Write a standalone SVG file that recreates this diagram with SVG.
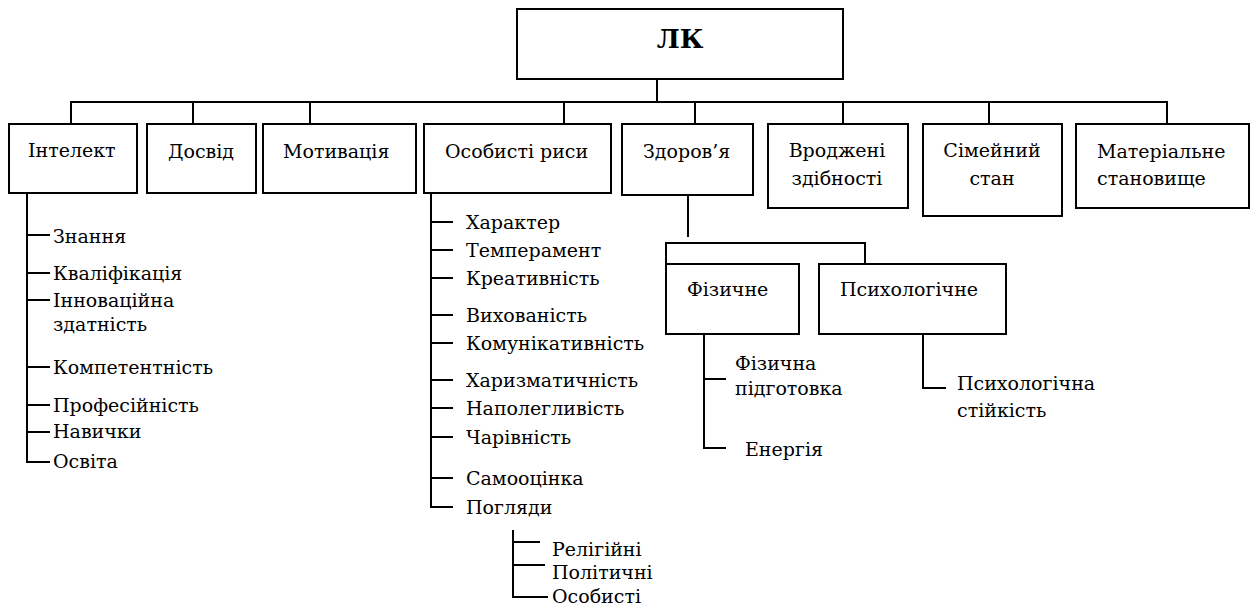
<svg xmlns="http://www.w3.org/2000/svg" width="1251" height="608" viewBox="0 0 1251 608">
<style>
.box{fill:#fff;stroke:#000;stroke-width:2}
.ln{fill:none;stroke:#000;stroke-width:2}
.c{text-anchor:middle}
.b{font-weight:bold;font-size:26px}
</style>
<rect width="1251" height="608" fill="#fff"/>
<g id="connectors">
<path class="ln" d="M657,79V102M71,124V102H1167V124M193,102V124M310,102V124M564,102V124M695,102V124M843,102V124M989,102V124"/>
<path class="ln" d="M27,193V462H50M27,235H50M27,273H50M27,300H50M27,367H50M27,405H50M27,432H50"/>
<path class="ln" d="M431,193V507H453M431,222H453M431,250H453M431,278H453M431,315H453M431,343H453M431,380H453M431,408H453M431,437H453M431,478H453"/>
<path class="ln" d="M513,530V597H548M513,542H540M513,565H545"/>
<path class="ln" d="M688,195V237M666,264V243H865V264"/>
<path class="ln" d="M704,334V448H726M704,379H726"/>
<path class="ln" d="M923,330V388H946"/>
</g>
<g font-family="DejaVu Serif, serif" font-size="19" fill="#000">
<g id="lk"><rect class="box" x="517" y="9" width="326" height="70"/><text class="c b" x="680" y="48">ЛК</text></g>
<g id="intelekt"><rect class="box" x="9" y="124" width="128" height="69"/><text x="28" y="157">Інтелект</text></g>
<g id="dosvid"><rect class="box" x="147" y="124" width="109" height="69"/><text x="168" y="158">Досвід</text></g>
<g id="motyvatsiia"><rect class="box" x="263" y="124" width="153" height="69"/><text x="283" y="158">Мотивація</text></g>
<g id="osobysti-rysy"><rect class="box" x="424" y="124" width="187" height="69"/><text x="445" y="158">Особисті риси</text></g>
<g id="zdorovia"><rect class="box" x="622" y="124" width="131" height="71"/><text x="643" y="158">Здоров’я</text></g>
<g id="vrodzheni"><rect class="box" x="768" y="124" width="140" height="84"/><text class="c" x="837" y="157">Вроджені</text><text class="c" x="837" y="185">здібності</text></g>
<g id="simeinyi"><rect class="box" x="923" y="124" width="139" height="92"/><text class="c" x="992" y="157">Сімейний</text><text class="c" x="992" y="185">стан</text></g>
<g id="materialne"><rect class="box" x="1076" y="124" width="173" height="84"/><text x="1097" y="158">Матеріальне</text><text x="1097" y="185">становище</text></g>
<g id="fizychne"><rect class="box" x="666" y="264" width="133" height="70"/><text x="687" y="296">Фізичне</text></g>
<g id="psykholohichne"><rect class="box" x="819" y="264" width="187" height="70"/><text x="840" y="296">Психологічне</text></g>
<g id="intelekt-items">
<text x="53" y="243">Знання</text>
<text x="53" y="280">Кваліфікація</text>
<text x="53" y="307">Інноваційна</text>
<text x="53" y="331">здатність</text>
<text x="53" y="374">Компетентність</text>
<text x="53" y="412">Професійність</text>
<text x="53" y="438">Навички</text>
<text x="53" y="468">Освіта</text>
</g>
<g id="rysy-items">
<text x="466" y="229">Характер</text>
<text x="466" y="257">Темперамент</text>
<text x="466" y="285">Креативність</text>
<text x="466" y="322">Вихованість</text>
<text x="466" y="350">Комунікативність</text>
<text x="466" y="387">Харизматичність</text>
<text x="466" y="415">Наполегливість</text>
<text x="466" y="444">Чарівність</text>
<text x="466" y="485">Самооцінка</text>
<text x="466" y="514">Погляди</text>
</g>
<g id="pohliady-items">
<text x="552" y="556">Релігійні</text>
<text x="552" y="579">Політичні</text>
<text x="552" y="603">Особисті</text>
</g>
<g id="fizychne-items">
<text x="735" y="370">Фізична</text>
<text x="735" y="395">підготовка</text>
<text x="745" y="456">Енергія</text>
</g>
<g id="psykh-items">
<text x="957" y="390">Психологічна</text>
<text x="957" y="417">стійкість</text>
</g>
</g>
</svg>
